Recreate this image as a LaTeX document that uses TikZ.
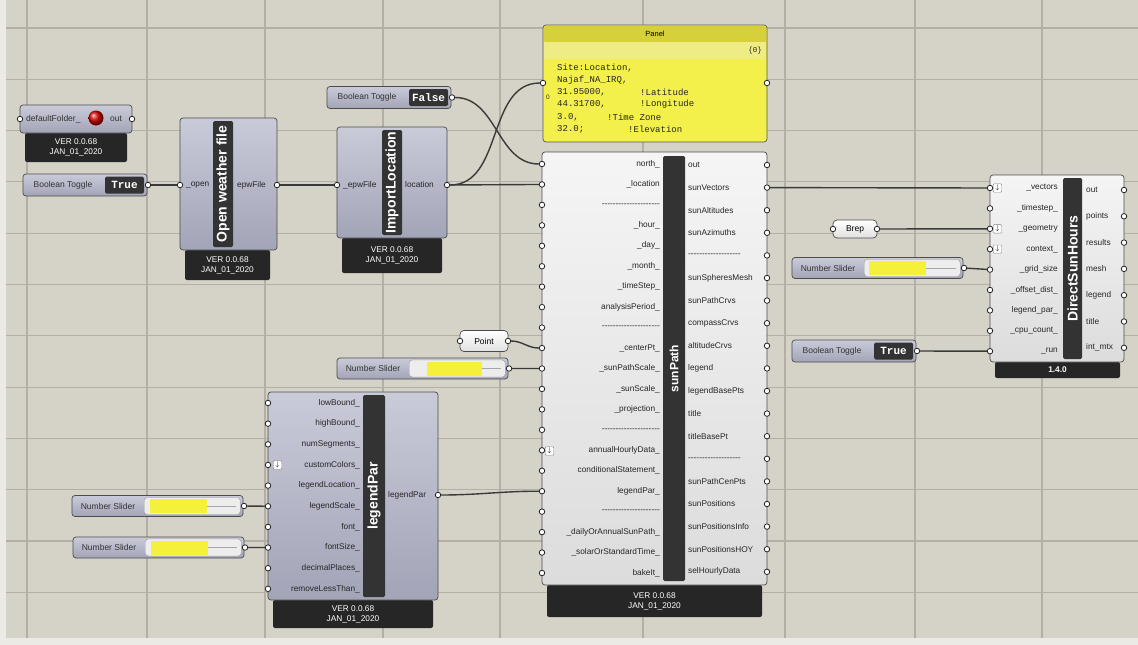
\documentclass[tikz,border=0pt]{standalone}
\usepackage{fontspec}
\setmainfont{Liberation Sans}
\setmonofont{Liberation Mono}
\usetikzlibrary{positioning, backgrounds, calc}
\definecolor{cEdge}{HTML}{ECEAE4}
\definecolor{cCanvas}{HTML}{D5D2C7}
\definecolor{cGrid}{HTML}{B3AFA4}
\definecolor{cBodyT}{HTML}{CACBD9}
\definecolor{cBodyB}{HTML}{A2A4B7}
\definecolor{cWhiteT}{HTML}{F5F5F5}
\definecolor{cWhiteB}{HTML}{DCDCDC}
\definecolor{cStrip}{HTML}{333333}
\definecolor{cFoot}{HTML}{262626}
\definecolor{cPanel}{HTML}{F3EF4B}
\definecolor{cPanelBar}{HTML}{D6D03A}
\definecolor{cPanelBand}{HTML}{EFEC86}
\definecolor{cSlider}{HTML}{F5F03A}
\definecolor{cWire}{HTML}{3A3A3A}
\pgfdeclarelayer{grid}
\pgfdeclarelayer{wires}
\pgfsetlayers{grid,wires,main}
\newcommand\dashrow[1]{\foreach\k in {1,...,#1}{-\kern0pt}}

\begin{document}
\begin{tikzpicture}[x=1pt, y=-1pt,
  body/.style={draw=black!70, line width=0.7, rounded corners=3, top color=cBodyT, bottom color=cBodyB, inner sep=0},
  wbody/.style={body, top color=cWhiteT, bottom color=cWhiteB},
  strip/.style={fill=cStrip, rounded corners=1.5, inner sep=0, text=white, rotate=90, font=\bfseries\fontsize{14}{14}\selectfont},
  foot/.style={fill=cFoot, rounded corners=2, inner sep=0, text=white, align=center, font=\fontsize{8.3}{10}\selectfont},
  port/.style={circle, draw=black!85, fill=white, line width=0.8, inner sep=0, minimum size=5.5},
  ilbl/.style={anchor=east, inner sep=0, text=black!85, font=\fontsize{8.3}{9}\selectfont},
  olbl/.style={ilbl, anchor=west},
  txtlbl/.style={inner sep=0, text=black!80, font=\fontsize{8.5}{9}\selectfont},
  togglebox/.style={fill=cStrip, rounded corners=1.5, inner sep=0, text=white, font=\ttfamily\bfseries\fontsize{11}{11}\selectfont},
  track/.style={draw=black!40, fill=black!7, rounded corners=3, inner sep=0},
  parambox/.style={draw=black!70, line width=0.7, rounded corners=4, top color=white, bottom color=black!12, inner sep=0, font=\fontsize{8.5}{9}\selectfont},
  icon/.style={draw=black!50, fill=white, rounded corners=1, minimum size=8.5, inner sep=0, font=\fontsize{7}{7}\selectfont},
  ptxt/.style={anchor=west, inner sep=0, text=black!85, font=\ttfamily\fontsize{9}{10}\selectfont},
  wire/.style={draw=cWire, line width=1.4},
  gridline/.style={draw=cGrid, line width=1.1}
]
\useasboundingbox (0,0) rectangle (1138,645);

% canvas
\begin{pgfonlayer}{grid}
\fill[cEdge] (0,0) rectangle (1138,645);
\fill[cCanvas] (6,0) rectangle (1138,638);
\foreach \gy in {0,...,11} \draw[gridline] (6,{28+51.3*\gy}) -- (1138,{28+51.3*\gy});
\foreach \gx in {27,147,265,383,500,643,785,915,1042} \draw[gridline] (\gx,0) -- (\gx,638);
\end{pgfonlayer}

% toggles and sliders
\foreach \n/\x/\y/\v in {tgA/23/185/True, tgB/327/97.5/False, tgC/792/351/True}{
  \node[body, minimum width=124, minimum height=22] (\n) at (\x+62,\y) {};
  \node[txtlbl] (\n-l) at (\x+40,\y) {Boolean Toggle};
  \node[togglebox, minimum width=39, minimum height=17] (\n-v) at (\x+101.5,\y) {\v};
  \node[port] (\n-o) at (\x+125,\y) {};
}
\foreach \n/\x/\y/\ya/\yb in {nsA/337/368.5/90/145, nsB/72/506/78/135, nsC/73/547.5/78/135, nsD/792/268/77/134}{
  \node[body, minimum width=171, minimum height=21] (\n) at (\x+85.5,\y) {};
  \node[txtlbl] (\n-l) at (\x+36,\y) {Number Slider};
  \node[track, minimum width=96, minimum height=17, anchor=west] (\n-t) at (\x+72,\y) {};
  \fill[cSlider] (\x+\ya,\y-7) rectangle (\x+\yb,\y+7);
  \draw[black!35, line width=0.5] (\x+\yb,\y) -- (\x+164,\y);
  \node[port] (\n-o) at (\x+172,\y) {};
}

% defaultFolder
\node[foot, minimum width=102, minimum height=29] (dfF) at (76,147.5) {VER 0.0.68\\JAN\_01\_2020};
\node[body, minimum width=112, minimum height=28] (df) at (76,119) {};
\node[txtlbl, anchor=west] (df-l) at (26,119) {defaultFolder\_};
\node[circle, shading=ball, ball color=red!85!black, minimum size=15, inner sep=0] (df-b) at (96,118) {};
\node[txtlbl, anchor=west] (df-ol) at (110,119) {out};
\node[port] (df-i) at (20,119) {};
\node[port] (df-o) at (132,119) {};

% Open weather file
\node[foot, minimum width=85, minimum height=30] (owfF) at (227.5,265) {VER 0.0.68\\JAN\_01\_2020};
\node[body, minimum width=97, minimum height=132] (owf) at (228.5,184) {};
\node[strip, minimum width=126, minimum height=20] (owfT) at (223,184) {Open weather file};
\node[ilbl, anchor=west] (owf-il) at (186,185) {\_open};
\node[olbl] (owf-ol) at (237,185) {epwFile};
\node[port] (owf-i) at (180,185) {};
\node[port] (owf-o) at (277,185) {};

% ImportLocation
\node[foot, minimum width=100, minimum height=35] (ilF) at (392,255.5) {VER 0.0.68\\JAN\_01\_2020};
\node[body, minimum width=110, minimum height=111] (il) at (392,182.5) {};
\node[strip, minimum width=105, minimum height=20] (ilT) at (392,182.5) {ImportLocation};
\node[ilbl, anchor=west] (il-il) at (343,185) {\_epwFile};
\node[olbl] (il-ol) at (405,185) {location};
\node[port] (il-i) at (337,185) {};
\node[port] (il-o) at (447,185) {};

% Panel
\node[draw=black!65, line width=0.7, fill=cPanel, rounded corners=3, minimum width=224, minimum height=117, inner sep=0] (pn) at (655,83.5) {};
\node[fill=cPanelBar, rounded corners=2, minimum width=222, minimum height=16, inner sep=0, anchor=north, font=\fontsize{7.5}{8}\selectfont] (pnT) at (655,26) {Panel};
\node[fill=cPanelBand, minimum width=222, minimum height=17, inner sep=0, anchor=north] (pnB) at (655,42) {};
\node[ptxt, anchor=east, font=\ttfamily\fontsize{7.5}{8}\selectfont] (pnC) at (762,51) {\{0\}};
\node[txtlbl, font=\fontsize{6.5}{7}\selectfont] (pnN) at (548,97) {0};
\node[ptxt] (pl1) at (557,68) {Site:Location,};
\node[ptxt] (pl2) at (557,80) {Najaf\_NA\_IRQ,};
\node[ptxt] (pl3) at (557,92) {31.95000,};
\node[ptxt] (pl4) at (557,104) {44.31700,};
\node[ptxt] (pl5) at (557,117) {3.0,};
\node[ptxt] (pl6) at (557,129) {32.0;};
\node[ptxt] (pc3) at (640,92) {!Latitude};
\node[ptxt] (pc4) at (640,104) {!Longitude};
\node[ptxt] (pc5) at (607,117) {!Time Zone};
\node[ptxt] (pc6) at (628,129) {!Elevation};
\node[port] (pn-i) at (543,83) {};
\node[port] (pn-o) at (767,83) {};

% sunPath
\node[foot, minimum width=215, minimum height=32] (spF) at (654.5,601) {VER 0.0.68\\JAN\_01\_2020};
\node[wbody, minimum width=225, minimum height=433] (sp) at (654.5,368.5) {};
\node[strip, minimum width=425, minimum height=22, font=\bfseries\fontsize{12}{12}\selectfont] (spT) at (674,368.5) {sunPath};
\foreach \lb [count=\i] in {north\_, \_location, \dashrow{21}, \_hour\_, \_day\_, \_month\_, \_timeStep\_, analysisPeriod\_, \dashrow{21}, \_centerPt\_, \_sunPathScale\_, \_sunScale\_, \_projection\_, \dashrow{21}, annualHourlyData\_, conditionalStatement\_, legendPar\_, \dashrow{21}, \_dailyOrAnnualSunPath\_, \_solarOrStandardTime\_, bakeIt\_}{
  \node[port] (sp-i\i) at (542,{164+20.45*(\i-1)}) {};
  \node[ilbl] (sp-il\i) at (660,{164+20.45*(\i-1)}) {\lb};
}
\foreach \lb [count=\i] in {out, sunVectors, sunAltitudes, sunAzimuths, \dashrow{19}, sunSpheresMesh, sunPathCrvs, compassCrvs, altitudeCrvs, legend, legendBasePts, title, titleBasePt, \dashrow{19}, sunPathCenPts, sunPositions, sunPositionsInfo, sunPositionsHOY, selHourlyData}{
  \node[port] (sp-o\i) at (767,{165+22.6*(\i-1)}) {};
  \node[olbl] (sp-ol\i) at (688,{165+22.6*(\i-1)}) {\lb};
}
\node[icon] (sp-ic) at (549.5,451) {$\downarrow$};

% Point and Brep
\node[parambox, minimum width=48, minimum height=21] (pt) at (484,341) {Point};
\node[port] (pt-i) at (460,341) {};
\node[port] (pt-o) at (508,341) {};
\node[parambox, minimum width=44, minimum height=18] (br) at (855,229) {Brep};
\node[port] (br-i) at (833,229) {};
\node[port] (br-o) at (877,229) {};

% legendPar
\node[foot, minimum width=160, minimum height=28] (lpF) at (353,614) {VER 0.0.68\\JAN\_01\_2020};
\node[body, minimum width=170, minimum height=208] (lp) at (353,496) {};
\node[strip, minimum width=202, minimum height=22] (lpT) at (374,496) {legendPar};
\foreach \lb [count=\i] in {lowBound\_, highBound\_, numSegments\_, customColors\_, legendLocation\_, legendScale\_, font\_, fontSize\_, decimalPlaces\_, removeLessThan\_}{
  \node[port] (lp-i\i) at (268,{403+20.65*(\i-1)}) {};
  \node[ilbl] (lp-il\i) at (360,{403+20.65*(\i-1)}) {\lb};
}
\node[olbl] (lp-ol) at (388,495) {legendPar};
\node[port] (lp-o) at (438,495) {};
\node[icon] (lp-ic) at (277.5,465) {$\downarrow$};

% DirectSunHours
\node[foot, minimum width=125, minimum height=16, font=\bfseries\fontsize{8.3}{9}\selectfont] (dshF) at (1057.5,370) {1.4.0};
\node[wbody, minimum width=134, minimum height=187] (dsh) at (1057,268.5) {};
\node[strip, minimum width=181, minimum height=19] (dshT) at (1072.5,268.5) {DirectSunHours};
\foreach \lb [count=\i] in {\_vectors, \_timestep\_, \_geometry, context\_, \_grid\_size, \_offset\_dist\_, legend\_par\_, \_cpu\_count\_, \_run}{
  \node[port] (dsh-i\i) at (990,{188+20.4*(\i-1)}) {};
  \node[ilbl] (dsh-il\i) at (1058,{188+20.4*(\i-1)}) {\lb};
}
\foreach \lb [count=\i] in {out, points, results, mesh, legend, title, int\_mtx}{
  \node[port] (dsh-o\i) at (1124,{190+26.3*(\i-1)}) {};
  \node[olbl] (dsh-ol\i) at (1086,{190+26.3*(\i-1)}) {\lb};
}
\foreach \i in {1,3,4} \node[icon] (dsh-ic\i) at (997.5,{188+20.4*(\i-1)}) {$\downarrow$};

% wires
\begin{pgfonlayer}{wires}
\draw[wire] (tgA-o) -- (owf-i);
\draw[wire] (owf-o) -- (il-i);
\draw[wire] (tgB-o) to[out=0, in=180] (sp-i1);
\draw[wire] (il-o) to[out=0, in=180] (pn-i);
\draw[wire] (il-o) -- (sp-i2);
\draw[wire] (pt-o) to[out=0, in=180] (sp-i10);
\draw[wire] (nsA-o) -- (sp-i11);
\draw[wire] (lp-o) to[out=0, in=180] (sp-i17);
\draw[wire] (nsB-o) -- (lp-i6);
\draw[wire] (nsC-o) -- (lp-i8);
\draw[wire] (sp-o2) -- (dsh-i1);
\draw[wire] (br-o) -- (dsh-i3);
\draw[wire] (nsD-o) -- (dsh-i5);
\draw[wire] (tgC-o) -- (dsh-i9);
\end{pgfonlayer}
\end{tikzpicture}
\end{document}
